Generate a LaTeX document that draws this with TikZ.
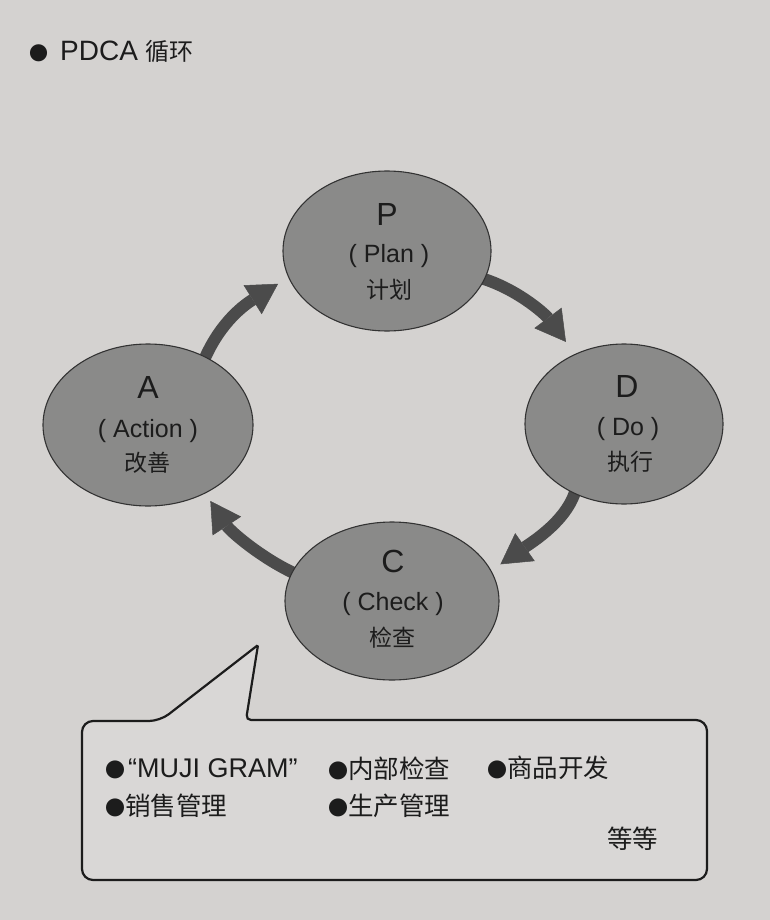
\documentclass[tikz,border=0pt]{standalone}
\usepackage{fontspec}
\setmainfont{Liberation Sans}
\newfontfamily\cjk{Noto Sans CJK SC}
\usetikzlibrary{arrows.meta,shapes.geometric}
\pgfdeclarelayer{paperlayer}
\pgfdeclarelayer{arrowlayer}
\pgfsetlayers{paperlayer,arrowlayer,main}
\definecolor{paper}{HTML}{D4D2D0}
\definecolor{bubble}{HTML}{8A8A89}
\definecolor{arrowgray}{HTML}{4B4B4B}
\definecolor{ink}{HTML}{1C1C1C}
\newcommand{\blt}{{\cjk\fontsize{20}{22}\selectfont ●}}
\newcommand{\latin}[1]{{\normalfont\fontsize{27}{29}\selectfont #1}}
\tikzset{
  phase/.style={ellipse, draw=ink!90, line width=1.1pt, fill=bubble, inner sep=0pt},
  letter/.style={anchor=base, inner sep=0pt, text=ink, font=\fontsize{32}{34}\selectfont},
  eng/.style={anchor=base, inner sep=0pt, text=ink, font=\fontsize{25}{27}\selectfont},
  chn/.style={anchor=center, inner sep=0pt, text=ink, font=\cjk\fontsize{23}{25}\selectfont},
  cycarrow/.style={draw=arrowgray, line width=12pt,
    -{Triangle[length=30pt,width=34pt,line width=0.5pt]}, arrowgray, shorten <=-8pt},
  item/.style={anchor=west, inner sep=0pt, text=ink, font=\cjk\fontsize{25.5}{27}\selectfont},
  callout/.style={draw=ink, line width=2.2pt, fill=paper!88!white}
}
\begin{document}
\begin{tikzpicture}[x=1pt,y=-1pt]
\begin{pgfonlayer}{paperlayer}
\fill[paper] (0,0) rectangle (770,920);
\end{pgfonlayer}
\useasboundingbox (0,0) rectangle (770,920);

% title
\node[anchor=west, inner sep=0pt, text=ink] (title) at (29,51)
  {{\cjk\fontsize{19}{21}\selectfont ●}\hspace{12pt}{\fontsize{28}{30}\selectfont PDCA}\hspace{8pt}{\cjk\fontsize{24}{26}\selectfont 循环}};

% ellipses
\node[phase, minimum width=208pt, minimum height=160pt] (P) at (387,251) {};
\node[phase, minimum width=198pt, minimum height=160pt] (D) at (624,424) {};
\node[phase, minimum width=214pt, minimum height=158pt] (C) at (392,601) {};
\node[phase, minimum width=210pt, minimum height=162pt] (A) at (148,425) {};

% ellipse texts
\node[letter] (Pl) at (387,225) {P};
\node[eng] (Pe) at (389,262) {( Plan )};
\node[chn] (Pc) at (389,290) {计划};

\node[letter] (Dl) at (627,397) {D};
\node[eng] (De) at (628,435) {( Do )};
\node[chn] (Dc) at (630,462) {执行};

\node[letter] (Cl) at (393,572) {C};
\node[eng] (Ce) at (393,610) {( Check )};
\node[chn] (Cc) at (392,638) {检查};

\node[letter] (Al) at (148,398) {A};
\node[eng] (Ae) at (148,437) {( Action )};
\node[chn] (Ac) at (147,463) {改善};

% callout
\draw[callout, rounded corners=11pt]
  (82,800) -- (82,721) -- (160,721) [rounded corners=1.5pt] -- (258,645)
  [rounded corners=5pt] -- (246,720) [rounded corners=11pt] -- (707,720)
  -- (707,880) -- (82,880) -- cycle;

\node[item] (i1) at (105,769) {\blt\hspace{3pt}\latin{“MUJI GRAM”}};
\node[item] (i2) at (328,769) {\blt 内部检查};
\node[item] (i3) at (487,768) {\blt 商品开发};
\node[item] (i4) at (105,806) {\blt 销售管理};
\node[item] (i5) at (328,806) {\blt 生产管理};
\node[item] (i6) at (607,839) {等等};

% arrows
\begin{pgfonlayer}{arrowlayer}
\draw[cycarrow, shorten >=12pt] (A.50) .. controls +(12,-30) and +(-48,30) .. (P.195);
\draw[cycarrow, shorten >=15pt] (P.-16) .. controls +(30,8) and +(-30,-40) .. (D.125);
\draw[cycarrow, shorten >=11pt] (D.235) .. controls +(-5,25) and +(40,-28) .. (C.17);
\draw[cycarrow, shorten >=9pt] (C.164) .. controls +(-28,-12) and +(25,38) .. (A.-50);
\end{pgfonlayer}
\end{tikzpicture}
\end{document}
